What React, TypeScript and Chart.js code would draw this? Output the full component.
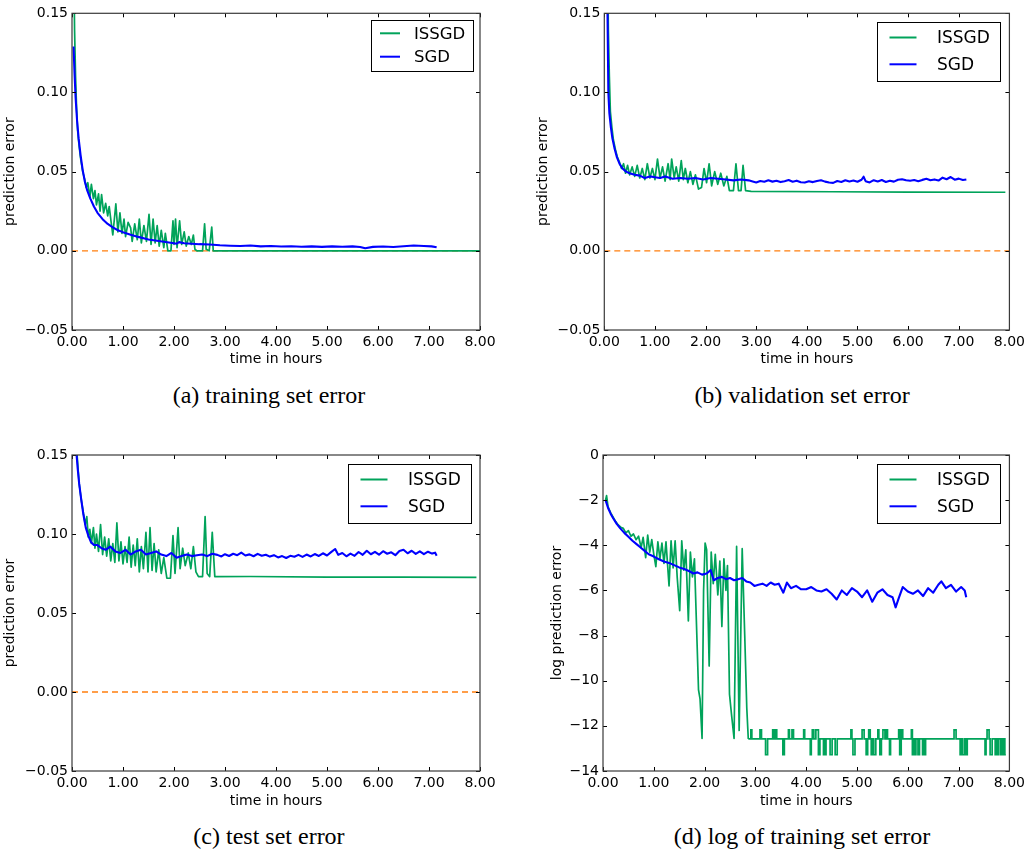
import React, { useEffect, useRef } from 'react';
import { Chart, registerables } from 'chart.js';

Chart.register(...registerables);

// ---------------- data ----------------
// (a) training set error
const TRAIN_ISSGD_T = [
  0.03, 0.05, 0.07, 0.09, 0.11, 0.14, 0.17, 0.21, 0.25, 0.28,
  0.31, 0.35, 0.38, 0.42, 0.45, 0.48, 0.52, 0.55, 0.58, 0.62,
  0.66, 0.70, 0.73, 0.76, 0.80, 0.86, 0.90, 0.94, 0.98, 1.02,
  1.05, 1.10, 1.15, 1.18, 1.23, 1.28, 1.32, 1.36, 1.41, 1.46,
  1.51, 1.55, 1.59, 1.63, 1.67, 1.71, 1.75, 1.80, 1.83, 1.88,
  1.94, 1.98, 2.00, 2.03, 2.06, 2.11, 2.15, 2.20, 2.24, 2.29,
  2.34, 2.38, 2.41, 2.45, 2.49, 2.56, 2.60, 2.63, 2.69, 2.74,
  2.77, 2.82, 8.00,
];
const TRAIN_ISSGD_V = [
  0.200, 0.140, 0.110, 0.090, 0.076, 0.066, 0.058, 0.050, 0.045, 0.040,
  0.043, 0.034, 0.042, 0.033, 0.038, 0.029, 0.036, 0.025, 0.0355, 0.024,
  0.030, 0.022, 0.028, 0.020, 0.010, 0.0296, 0.012, 0.024, 0.011, 0.020,
  0.009, 0.018, 0.0145, 0.006, 0.017, 0.007, 0.020, 0.005, 0.016, 0.006,
  0.023, 0.004, 0.020, 0.005, 0.016, 0.003, 0.013, 0.002, 0.011, 0.000,
  0.000, 0.019, 0.004, 0.020, 0.002, 0.019, 0.004, 0.012, 0.003, 0.009,
  0.004, 0.010, 0.001, 0.000, 0.000, 0.000, 0.017, 0.001, 0.000, 0.015,
  0.000, 0.000, 0.000,
];
const TRAIN_SGD_T = [
  0.03, 0.05, 0.07, 0.10, 0.13, 0.17, 0.21, 0.25, 0.30, 0.36,
  0.43, 0.50, 0.60, 0.70, 0.80, 0.90, 1.00, 1.15, 1.30, 1.50,
  1.70, 1.90, 2.00, 2.05, 2.10, 2.20, 2.35, 2.50, 2.70, 2.90,
  3.10, 3.30, 3.50, 3.70, 3.90, 4.10, 4.30, 4.50, 4.70, 4.90,
  5.10, 5.30, 5.50, 5.65, 5.75, 5.90, 6.10, 6.30, 6.50, 6.70,
  6.90, 7.05, 7.15,
];
const TRAIN_SGD_V = [
  0.129, 0.112, 0.097, 0.082, 0.071, 0.060, 0.051, 0.044, 0.038, 0.033,
  0.028, 0.024, 0.020, 0.017, 0.0148, 0.013, 0.0118, 0.0102, 0.0088, 0.0072,
  0.0062, 0.0053, 0.0048, 0.0045, 0.0055, 0.0048, 0.0045, 0.0042, 0.0040, 0.0035,
  0.0032, 0.0030, 0.0034, 0.0028, 0.0030, 0.0027, 0.0029, 0.0026, 0.0028, 0.0025,
  0.0028, 0.0026, 0.0028, 0.0024, 0.0016, 0.0025, 0.0027, 0.0024, 0.0029, 0.0034,
  0.0030, 0.0028, 0.0022,
];

// (b) validation set error
const VALID_ISSGD_T = [
  0.06, 0.08, 0.10, 0.12, 0.15, 0.18, 0.22, 0.26, 0.30, 0.34,
  0.38, 0.42, 0.46, 0.50, 0.55, 0.60, 0.65, 0.70, 0.75, 0.80,
  0.85, 0.90, 0.95, 1.00, 1.05, 1.10, 1.15, 1.20, 1.26, 1.30,
  1.33, 1.38, 1.42, 1.47, 1.52, 1.56, 1.60, 1.65, 1.70, 1.75,
  1.80, 1.86, 1.92, 1.97, 2.02, 2.07, 2.12, 2.18, 2.24, 2.30,
  2.36, 2.42, 2.47, 2.55, 2.60, 2.65, 2.70, 2.74, 2.79, 2.90,
  4.50, 6.00, 7.92,
];
const VALID_ISSGD_V = [
  0.20, 0.14, 0.11, 0.088, 0.078, 0.070, 0.064, 0.059, 0.056, 0.052,
  0.055, 0.049, 0.054, 0.048, 0.053, 0.047, 0.054, 0.046, 0.052, 0.045,
  0.055, 0.046, 0.052, 0.045, 0.058, 0.046, 0.053, 0.044, 0.055, 0.045,
  0.058, 0.046, 0.053, 0.044, 0.057, 0.045, 0.052, 0.043, 0.050, 0.042,
  0.048, 0.039, 0.040, 0.052, 0.043, 0.055, 0.041, 0.050, 0.042, 0.049,
  0.041, 0.047, 0.038, 0.038, 0.055, 0.038, 0.038, 0.054, 0.038, 0.0376,
  0.0373, 0.0371, 0.0370,
];
const VALID_SGD_T = [
  0.06, 0.08, 0.10, 0.13, 0.16, 0.20, 0.25, 0.30, 0.36, 0.43,
  0.50, 0.60, 0.70, 0.80, 0.90, 1.00, 1.10, 1.20, 1.35, 1.50,
  1.65, 1.80, 1.95, 2.10, 2.25, 2.40, 2.55, 2.70, 2.85, 2.93,
  3.00, 3.08, 3.16, 3.24, 3.32, 3.40, 3.48, 3.56, 3.64, 3.72,
  3.80, 3.88, 3.96, 4.04, 4.12, 4.20, 4.28, 4.36, 4.44, 4.52,
  4.60, 4.68, 4.76, 4.84, 4.92, 5.00, 5.08, 5.12, 5.16, 5.24,
  5.32, 5.40, 5.48, 5.56, 5.64, 5.72, 5.80, 5.88, 5.96, 6.04,
  6.12, 6.20, 6.28, 6.36, 6.44, 6.52, 6.60, 6.68, 6.76, 6.84,
  6.92, 7.00, 7.08, 7.15,
];
const VALID_SGD_V = [
  0.160, 0.100, 0.087, 0.078, 0.071, 0.065, 0.059, 0.055, 0.052, 0.050,
  0.049, 0.048, 0.0475, 0.046, 0.047, 0.0465, 0.046, 0.047, 0.0455, 0.046,
  0.0455, 0.046, 0.045, 0.046, 0.0455, 0.045, 0.0445, 0.045, 0.0445, 0.0438,
  0.0432, 0.0441, 0.0436, 0.0445, 0.0437, 0.0442, 0.0434, 0.0440, 0.0447, 0.0436,
  0.0443, 0.0433, 0.0431, 0.0439, 0.0434, 0.0441, 0.0446, 0.0437, 0.0431, 0.0429,
  0.0441, 0.0435, 0.0446, 0.0438, 0.0444, 0.0436, 0.0449, 0.0468, 0.0440, 0.0432,
  0.0446, 0.0438, 0.0447, 0.0435, 0.0443, 0.0437, 0.0449, 0.0452, 0.0446, 0.0443,
  0.0447, 0.0440, 0.0448, 0.0455, 0.0446, 0.0451, 0.0444, 0.0462, 0.0452, 0.0466,
  0.0449, 0.0456, 0.0447, 0.0451,
];

// (c) test set error
const TEST_ISSGD_T = [
  0.10, 0.14, 0.18, 0.22, 0.26, 0.29, 0.32, 0.35, 0.38, 0.42,
  0.45, 0.48, 0.52, 0.56, 0.60, 0.64, 0.68, 0.72, 0.76, 0.80,
  0.84, 0.88, 0.92, 0.96, 1.00, 1.04, 1.08, 1.12, 1.16, 1.20,
  1.24, 1.28, 1.32, 1.36, 1.40, 1.45, 1.49, 1.53, 1.57, 1.61,
  1.65, 1.70, 1.75, 1.80, 1.86, 1.93, 1.98, 2.02, 2.08, 2.12,
  2.17, 2.22, 2.28, 2.33, 2.38, 2.43, 2.48, 2.56, 2.61, 2.65,
  2.70, 2.75, 2.80, 3.50, 5.00, 6.50, 7.93,
];
const TEST_ISSGD_V = [
  0.150, 0.132, 0.122, 0.114, 0.106, 0.111, 0.098, 0.103, 0.094, 0.104,
  0.091, 0.100, 0.089, 0.106, 0.087, 0.098, 0.086, 0.097, 0.083, 0.094,
  0.082, 0.107, 0.083, 0.095, 0.081, 0.092, 0.082, 0.098, 0.079, 0.093,
  0.080, 0.097, 0.076, 0.092, 0.078, 0.101, 0.076, 0.104, 0.077, 0.094,
  0.076, 0.090, 0.075, 0.085, 0.072, 0.072, 0.099, 0.075, 0.104, 0.078,
  0.091, 0.080, 0.088, 0.078, 0.092, 0.076, 0.073, 0.073, 0.111, 0.075,
  0.073, 0.101, 0.073, 0.0731, 0.0727, 0.0727, 0.0725,
];
const TEST_SGD_T = [
  0.09, 0.11, 0.14, 0.18, 0.22, 0.27, 0.32, 0.37, 0.43, 0.50,
  0.58, 0.66, 0.75, 0.85, 0.95, 1.05, 1.15, 1.25, 1.35, 1.45,
  1.55, 1.65, 1.75, 1.85, 1.95, 2.05, 2.15, 2.25, 2.35, 2.45,
  2.55, 2.65, 2.75, 2.85, 2.93, 3.00, 3.08, 3.16, 3.24, 3.32,
  3.40, 3.48, 3.56, 3.64, 3.72, 3.80, 3.88, 3.96, 4.04, 4.12,
  4.20, 4.28, 4.36, 4.44, 4.52, 4.60, 4.68, 4.76, 4.84, 4.92,
  5.00, 5.08, 5.16, 5.22, 5.30, 5.38, 5.46, 5.54, 5.62, 5.70,
  5.78, 5.86, 5.94, 6.02, 6.10, 6.18, 6.26, 6.34, 6.42, 6.50,
  6.58, 6.66, 6.74, 6.82, 6.90, 6.98, 7.06, 7.12, 7.15,
];
const TEST_SGD_V = [
  0.150, 0.142, 0.132, 0.122, 0.113, 0.104, 0.099, 0.095, 0.093, 0.093,
  0.091, 0.090, 0.092, 0.089, 0.088, 0.090, 0.087, 0.089, 0.090, 0.087,
  0.088, 0.089, 0.087, 0.086, 0.088, 0.085, 0.086, 0.087, 0.086, 0.0865,
  0.087, 0.086, 0.0875, 0.0868, 0.0858, 0.0872, 0.0861, 0.0875, 0.0866, 0.0882,
  0.0864, 0.0871, 0.0859, 0.0874, 0.0862, 0.0869, 0.0857, 0.0866, 0.0852, 0.0860,
  0.0848, 0.0862, 0.0856, 0.0868, 0.0855, 0.0870, 0.0858, 0.0873, 0.0861, 0.0878,
  0.0864, 0.0885, 0.0905, 0.0868, 0.0880, 0.0859, 0.0876, 0.0862, 0.0886, 0.0868,
  0.0894, 0.0872, 0.0887, 0.0869, 0.0891, 0.0875, 0.0884, 0.0866, 0.0893, 0.0900,
  0.0878, 0.0894, 0.0874, 0.0890, 0.0872, 0.0888, 0.0876, 0.0882, 0.0862,
];

// (d) log of training set error
const LOG_ISSGD_T = [
  0.05, 0.07, 0.10, 0.15, 0.20, 0.25, 0.30, 0.35, 0.40, 0.45,
  0.50, 0.55, 0.60, 0.65, 0.70, 0.75, 0.79, 0.84, 0.88, 0.92,
  0.96, 1.00, 1.04, 1.08, 1.12, 1.16, 1.20, 1.24, 1.30, 1.34,
  1.38, 1.42, 1.46, 1.51, 1.55, 1.59, 1.63, 1.68, 1.72, 1.76,
  1.80, 1.84, 1.88, 1.91, 1.95, 1.98, 2.01, 2.04, 2.09, 2.13,
  2.17, 2.21, 2.26, 2.30, 2.34, 2.38, 2.42, 2.45, 2.49, 2.53,
  2.58, 2.63, 2.68, 2.74, 2.79, 2.83, 2.86,
];
const LOG_ISSGD_V = [
  -2.0, -1.8, -2.3, -2.55, -2.75, -2.95, -3.1, -3.2, -3.25, -3.45,
  -3.35, -3.6, -3.5, -3.75, -3.6, -4.1, -3.65, -4.55, -3.55, -4.3,
  -3.75, -4.4, -4.95, -3.85, -4.6, -3.9, -4.8, -3.85, -5.8, -3.8,
  -5.0, -3.8, -5.4, -6.9, -3.8, -5.1, -4.2, -7.35, -4.3, -5.4,
  -4.6, -7.5, -10.4, -10.8, -12.56, -6.0, -3.9, -4.2, -9.35, -4.3,
  -5.7, -4.4, -6.2, -4.7, -7.6, -4.6, -6.0, -4.9, -10.6, -11.5,
  -12.56, -4.05, -12.2, -4.15, -8.0, -11.2, -12.58,
];
// flat, stepped tail of ISSGD after convergence
const LOG_ISSGD_TAIL_T = [
  2.86, 2.91, 2.93, 3.09, 3.12, 3.20, 3.24, 3.34, 3.36, 3.39,
  3.42, 3.54, 3.57, 3.65, 3.67, 3.72, 3.75, 3.95, 3.97, 4.08,
  4.10, 4.12, 4.15, 4.19, 4.24, 4.27, 4.34, 4.36, 4.37, 4.39,
  4.47, 4.51, 4.57, 4.61, 4.88, 4.90, 4.92, 4.96, 5.10, 5.14,
  5.18, 5.21, 5.23, 5.26, 5.28, 5.31, 5.33, 5.37, 5.41, 5.43,
  5.45, 5.48, 5.51, 5.55, 5.58, 5.60, 5.64, 5.66, 5.82, 5.84,
  5.87, 5.90, 6.07, 6.09, 6.12, 6.14, 6.16, 6.20, 6.23, 6.29,
  6.32, 6.33, 6.35, 6.91, 6.95, 7.03, 7.06, 7.08, 7.12, 7.14,
  7.17, 7.52, 7.54, 7.56, 7.60, 7.62, 7.66, 7.72, 7.75, 7.76,
  7.78, 7.82, 7.85, 7.86, 7.88, 7.91, 7.93,
];
const LOG_ISSGD_TAIL_V = [
  -12.58, -12.18, -12.58, -12.18, -12.58, -13.28, -12.58, -12.18, -12.58, -12.18,
  -12.58, -13.28, -12.58, -12.18, -12.58, -12.18, -12.58, -12.18, -12.58, -13.28,
  -12.58, -12.18, -12.58, -12.18, -13.28, -12.58, -13.28, -12.58, -13.28, -12.58,
  -13.28, -12.58, -13.28, -12.58, -12.18, -12.58, -13.28, -12.58, -12.18, -12.58,
  -13.28, -12.58, -12.18, -12.58, -13.28, -12.58, -13.28, -12.58, -12.18, -12.58,
  -13.28, -12.58, -12.18, -12.58, -12.18, -12.58, -13.28, -12.58, -12.18, -13.28,
  -12.18, -12.58, -12.18, -13.28, -12.58, -13.28, -12.58, -13.28, -12.58, -13.28,
  -12.58, -13.28, -12.58, -12.18, -12.58, -13.28, -12.58, -13.28, -12.58, -13.28,
  -12.58, -13.28, -12.58, -12.18, -12.58, -13.28, -12.58, -13.28, -12.58, -13.28,
  -12.58, -13.28, -12.58, -13.28, -12.58, -13.28, -13.28,
];
const LOG_SGD_T = [
  0.05, 0.10, 0.15, 0.20, 0.27, 0.34, 0.42, 0.50, 0.58, 0.66,
  0.74, 0.82, 0.90, 1.00, 1.10, 1.20, 1.30, 1.40, 1.50, 1.60,
  1.70, 1.78, 1.86, 1.95, 2.04, 2.12, 2.18, 2.26, 2.34, 2.42,
  2.50, 2.58, 2.66, 2.74, 2.82, 2.90, 2.98, 3.06, 3.14, 3.22,
  3.30, 3.38, 3.46, 3.55, 3.62, 3.70, 3.80, 3.90, 4.00, 4.10,
  4.20, 4.30, 4.40, 4.50, 4.60, 4.70, 4.80, 4.90, 5.00, 5.10,
  5.20, 5.30, 5.40, 5.50, 5.60, 5.70, 5.76, 5.82, 5.90, 6.00,
  6.10, 6.20, 6.30, 6.40, 6.50, 6.60, 6.66, 6.75, 6.85, 6.95,
  7.05, 7.12, 7.15,
];
const LOG_SGD_V = [
  -2.0, -2.35, -2.6, -2.8, -3.05, -3.25, -3.45, -3.62, -3.8, -3.95,
  -4.1, -4.25, -4.4, -4.5, -4.62, -4.72, -4.78, -4.88, -4.98, -5.05,
  -5.15, -5.25, -5.2, -5.3, -5.25, -5.1, -5.55, -5.45, -5.4, -5.5,
  -5.45, -5.55, -5.5, -5.45, -5.6, -5.65, -5.8, -5.75, -5.7, -5.8,
  -5.65, -5.75, -5.7, -6.1, -5.65, -5.9, -5.8, -5.95, -5.95, -5.85,
  -6.0, -6.05, -5.95, -6.15, -6.4, -6.0, -6.2, -5.9, -6.05, -6.3,
  -6.0, -6.5, -6.1, -5.95, -6.2, -6.3, -6.75, -6.35, -5.85, -6.05,
  -6.15, -6.0, -6.25, -5.9, -6.1, -5.75, -5.6, -5.9, -5.75, -6.05,
  -5.85, -6.0, -6.3,
];

// zero reference line
const ZERO_T = [0, 8];
const ZERO_V = [0, 0];

// axis ticks
const X_MIN = 0, X_MAX = 8, X_STEP = 1;
const ERR_MIN = -0.05, ERR_MAX = 0.15, ERR_STEP = 0.05;
const LOG_MIN = -14, LOG_MAX = 0, LOG_STEP = 2;

const SERIES_NAMES = ['ISSGD', 'SGD'];
const CAPTIONS = [
  '(a) training set error',
  '(b) validation set error',
  '(c) test set error',
  '(d) log of training set error',
];

// ---------------- styles ----------------
const GREEN = '#00a35a';
const BLUE = '#0000ff';
const ORANGE = '#ff7f0e';
const SANS = '"DejaVu Sans", "Bitstream Vera Sans", sans-serif';

const pts = (t: number[], v: number[]) => t.map((x, i) => ({ x, y: v[i] }));

const decorPlugin = {
  id: 'mplDecor',
  afterDatasetsDraw(chart: any, _args: any, opts: any) {
    const { ctx, chartArea: a, scales } = chart;
    ctx.save();
    ctx.strokeStyle = '#000';
    ctx.lineWidth = 1;
    const L = 4;
    ctx.beginPath();
    scales.x.ticks.forEach((t: any) => {
      const px = Math.round(scales.x.getPixelForValue(t.value)) + 0.5;
      ctx.moveTo(px, a.bottom);
      ctx.lineTo(px, a.bottom - L);
      ctx.moveTo(px, a.top);
      ctx.lineTo(px, a.top + L);
    });
    scales.y.ticks.forEach((t: any) => {
      const py = Math.round(scales.y.getPixelForValue(t.value)) + 0.5;
      ctx.moveTo(a.left, py);
      ctx.lineTo(a.left + L, py);
      ctx.moveTo(a.right, py);
      ctx.lineTo(a.right - L, py);
    });
    ctx.stroke();
    ctx.strokeStyle = '#3a3a3a';
    ctx.lineWidth = 1.2;
    ctx.strokeRect(a.left, a.top, a.right - a.left, a.bottom - a.top);
    const lg = opts.legend;
    const bx = Math.round(a.right - lg.right);
    const by = Math.round(a.top + lg.top);
    ctx.fillStyle = '#fff';
    ctx.fillRect(bx, by, lg.w, lg.h);
    ctx.strokeStyle = '#000';
    ctx.lineWidth = 1;
    ctx.strokeRect(bx + 0.5, by + 0.5, lg.w, lg.h);
    const items = chart.data.datasets.filter((d: any) => d.inLegend);
    items.forEach((d: any, i: number) => {
      const ry = by + lg.rows[i];
      ctx.strokeStyle = d.borderColor;
      ctx.lineWidth = 2;
      ctx.beginPath();
      ctx.moveTo(bx + lg.s0, ry);
      ctx.lineTo(bx + lg.s1, ry);
      ctx.stroke();
      ctx.fillStyle = '#000';
      ctx.font = `${lg.fs}px ${SANS}`;
      ctx.textAlign = 'left';
      ctx.textBaseline = 'middle';
      ctx.fillText(d.label, bx + lg.tx, ry + 1);
    });
    ctx.restore();
  },
};

const LEGEND_SMALL = { right: 109, top: 6.7, w: 102, h: 51, s0: 9, s1: 29, tx: 43, rows: [13.3, 36.7], fs: 16.5 };
const LEGEND_BIG = { right: 132, top: 9, w: 123, h: 59, s0: 12.5, s1: 39.5, tx: 60, rows: [15.5, 42.3], fs: 17 };

const fmtErr = (v: number) => {
  const s = Math.abs(v).toFixed(2);
  return v < -1e-9 ? '\u2212' + s : s;
};
const fmtLog = (v: number) => {
  const r = Math.round(v);
  return r < 0 ? '\u2212' + Math.abs(r) : String(r);
};

type PanelSpec = {
  left: number; top: number; w: number; h: number;
  pad: { left: number; right: number; top: number; bottom: number };
  yw: number; xh: number; ytp: number; xtb: number;
  ymin: number; ymax: number; ystep: number; yfmt: (v: number) => string; ytitle: string;
  issgd: { t: number[]; v: number[] };
  tail?: { t: number[]; v: number[] };
  sgd: { t: number[]; v: number[] };
  zero: boolean;
  legend: any;
};

function Panel({ spec }: { spec: PanelSpec }) {
  const ref = useRef<HTMLCanvasElement | null>(null);
  useEffect(() => {
    if (!ref.current) return;
    const tickFont = { family: SANS, size: 14 };
    const datasets: any[] = [
      {
        label: SERIES_NAMES[0], inLegend: true,
        data: pts(spec.issgd.t, spec.issgd.v),
        borderColor: GREEN, borderWidth: 1.7, pointRadius: 0, tension: 0,
        borderJoinStyle: 'round', order: 1,
      },
    ];
    if (spec.tail) {
      datasets.push({
        label: '', inLegend: false,
        data: pts(spec.tail.t, spec.tail.v),
        borderColor: GREEN, borderWidth: 1.7, pointRadius: 0, stepped: true, order: 1,
      });
    }
    datasets.push({
      label: SERIES_NAMES[1], inLegend: true,
      data: pts(spec.sgd.t, spec.sgd.v),
      borderColor: BLUE, borderWidth: 2.1, pointRadius: 0, tension: 0,
      borderJoinStyle: 'round', order: 0,
    });
    if (spec.zero) {
      datasets.push({
        label: '', inLegend: false,
        data: pts(ZERO_T, ZERO_V),
        borderColor: ORANGE, borderWidth: 1.3, borderDash: [6, 4], pointRadius: 0, order: 3,
      });
    }
    const chart = new Chart(ref.current, {
      type: 'line',
      data: { datasets },
      plugins: [decorPlugin],
      options: {
        animation: false,
        responsive: false,
        events: [],
        layout: { padding: spec.pad },
        plugins: {
          legend: { display: false },
          tooltip: { enabled: false },
          mplDecor: { legend: spec.legend },
        } as any,
        scales: {
          x: {
            type: 'linear', min: X_MIN, max: X_MAX,
            afterFit: (s: any) => { s.height = spec.xh; },
            grid: { display: false, drawTicks: false },
            border: { display: false },
            ticks: {
              stepSize: X_STEP, autoSkip: false, maxRotation: 0, padding: 4,
              color: '#000', font: tickFont,
              callback: (v: any) => Number(v).toFixed(2),
            },
            title: {
              display: true, text: 'time in hours', color: '#000', font: tickFont,
              padding: { top: 0, bottom: spec.xtb },
            },
          },
          y: {
            type: 'linear', min: spec.ymin, max: spec.ymax,
            afterFit: (s: any) => { s.width = spec.yw; },
            grid: { display: false, drawTicks: false },
            border: { display: false },
            ticks: {
              stepSize: spec.ystep, autoSkip: false, padding: 4,
              color: '#000', font: tickFont,
              callback: (v: any) => spec.yfmt(Number(v)),
            },
            title: {
              display: true, text: spec.ytitle, color: '#000', font: tickFont,
              padding: { top: spec.ytp, bottom: 0 },
            },
          },
        },
      } as any,
    });
    return () => chart.destroy();
  }, [spec]);
  return (
    <div style={{ position: 'absolute', left: spec.left, top: spec.top, width: spec.w, height: spec.h }}>
      <canvas ref={ref} width={spec.w} height={spec.h} style={{ display: 'block', width: spec.w, height: spec.h }} />
    </div>
  );
}

const PANELS: PanelSpec[] = [
  {
    left: 0, top: 0, w: 500, h: 375,
    pad: { left: 0, right: 20, top: 13.3, bottom: 0 },
    yw: 72, xh: 45, ytp: 2.3, xtb: 6.8,
    ymin: ERR_MIN, ymax: ERR_MAX, ystep: ERR_STEP, yfmt: fmtErr, ytitle: 'prediction error',
    issgd: { t: TRAIN_ISSGD_T, v: TRAIN_ISSGD_V },
    sgd: { t: TRAIN_SGD_T, v: TRAIN_SGD_V },
    zero: true, legend: LEGEND_SMALL,
  },
  {
    left: 520, top: 0, w: 509, h: 375,
    pad: { left: 0, right: 16.3, top: 13.3, bottom: 0 },
    yw: 84.3, xh: 45, ytp: 15.3, xtb: 6.8,
    ymin: ERR_MIN, ymax: ERR_MAX, ystep: ERR_STEP, yfmt: fmtErr, ytitle: 'prediction error',
    issgd: { t: VALID_ISSGD_T, v: VALID_ISSGD_V },
    sgd: { t: VALID_SGD_T, v: VALID_SGD_V },
    zero: true, legend: LEGEND_BIG,
  },
  {
    left: 0, top: 440, w: 500, h: 375,
    pad: { left: 0, right: 20, top: 15, bottom: 0 },
    yw: 72, xh: 44, ytp: 2.3, xtb: 5.6,
    ymin: ERR_MIN, ymax: ERR_MAX, ystep: ERR_STEP, yfmt: fmtErr, ytitle: 'prediction error',
    issgd: { t: TEST_ISSGD_T, v: TEST_ISSGD_V },
    sgd: { t: TEST_SGD_T, v: TEST_SGD_V },
    zero: true, legend: LEGEND_BIG,
  },
  {
    left: 520, top: 440, w: 509, h: 375,
    pad: { left: 0, right: 16.3, top: 15, bottom: 0 },
    yw: 83, xh: 44, ytp: 28.8, xtb: 5.6,
    ymin: LOG_MIN, ymax: LOG_MAX, ystep: LOG_STEP, yfmt: fmtLog, ytitle: 'log prediction error',
    issgd: { t: LOG_ISSGD_T, v: LOG_ISSGD_V },
    tail: { t: LOG_ISSGD_TAIL_T, v: LOG_ISSGD_TAIL_V },
    sgd: { t: LOG_SGD_T, v: LOG_SGD_V },
    zero: false, legend: LEGEND_BIG,
  },
];

const CAPTION_POS = [
  { cx: 269, top: 381 },
  { cx: 802, top: 381 },
  { cx: 269, top: 822 },
  { cx: 802, top: 822 },
];

export default function App() {
  return (
    <div style={{ position: 'absolute', left: 0, top: 0, width: 1029, height: 850, background: '#fff', overflow: 'hidden' }}>
      {PANELS.map((p, i) => <Panel key={i} spec={p} />)}
      {CAPTIONS.map((c, i) => (
        <div
          key={'c' + i}
          style={{
            position: 'absolute', left: CAPTION_POS[i].cx - 250, top: CAPTION_POS[i].top, width: 500,
            textAlign: 'center', fontFamily: '"Liberation Serif", "Times New Roman", serif',
            fontSize: 24, lineHeight: '28px', color: '#000', whiteSpace: 'nowrap',
          }}
        >
          {c}
        </div>
      ))}
    </div>
  );
}
